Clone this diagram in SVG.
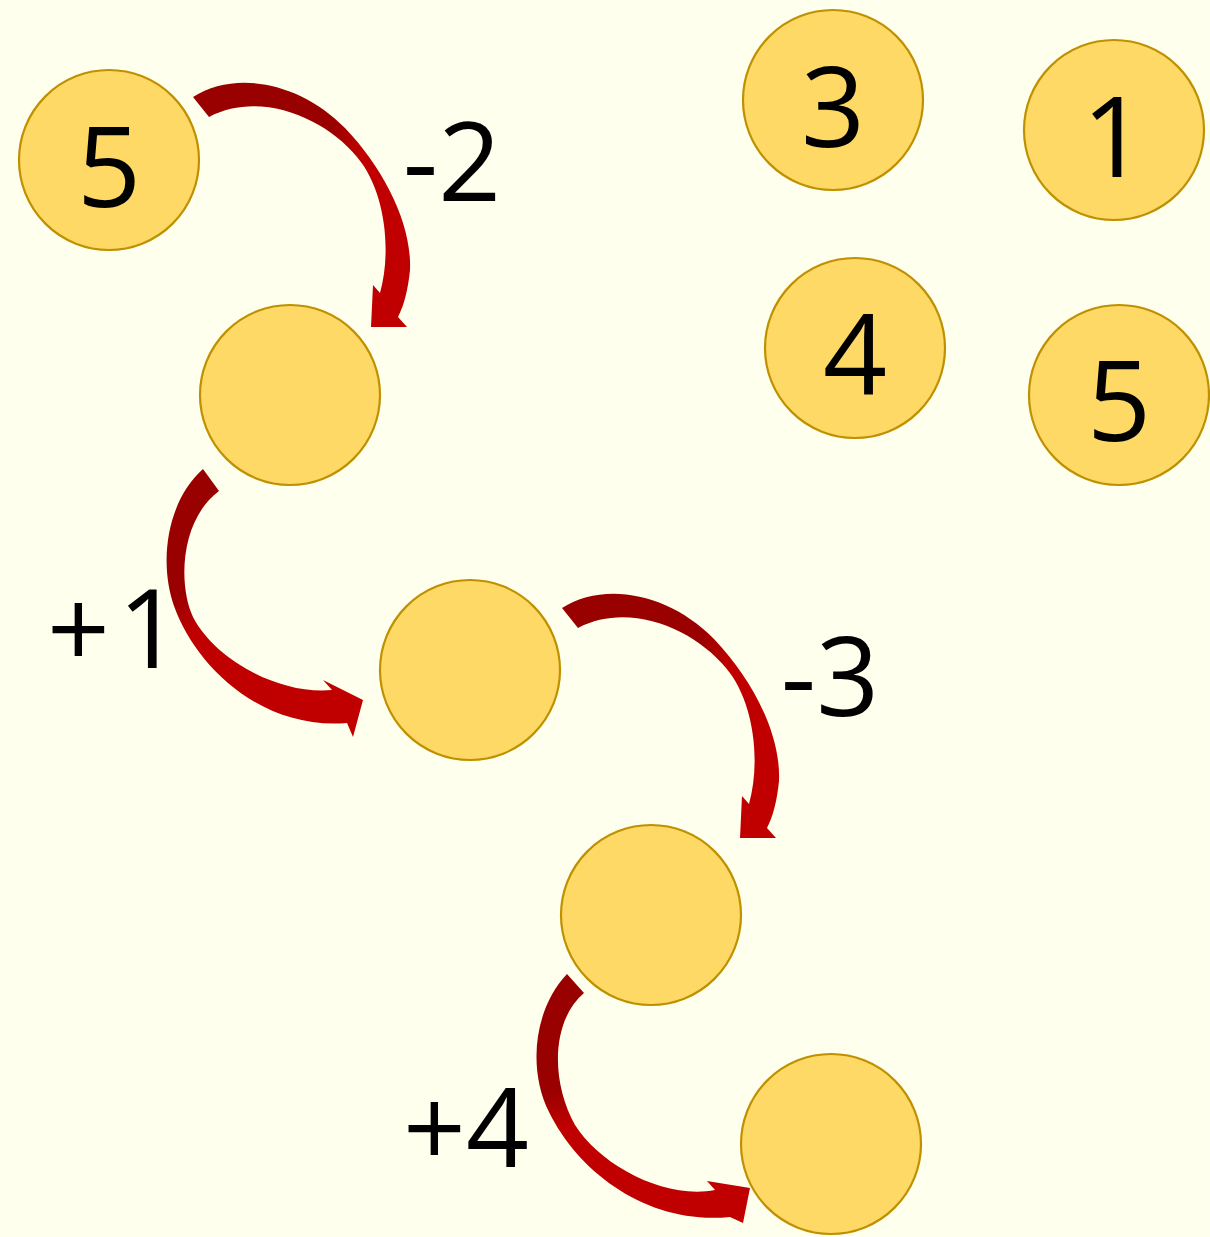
<svg xmlns="http://www.w3.org/2000/svg" width="1210" height="1237" viewBox="0 0 1210 1237">
<style>
.node circle{fill:#FFD966;stroke:#BF9000;stroke-width:2.2}
.num{font-family:"Open Sans","Noto Sans",sans-serif;font-size:112px;fill:#000;text-anchor:middle}
.lbl{font-family:"Open Sans","Noto Sans",sans-serif;font-size:110px;fill:#000;text-anchor:middle}
</style>
<defs>
<linearGradient id="gA" x1="0" y1="0" x2="1" y2="0.6">
<stop offset="0" stop-color="#990000"/><stop offset="0.55" stop-color="#9A0000"/><stop offset="0.7" stop-color="#C00000"/><stop offset="1" stop-color="#C00000"/>
</linearGradient>
<linearGradient id="gB" x1="0" y1="0" x2="0.3" y2="1">
<stop offset="0" stop-color="#990000"/><stop offset="0.45" stop-color="#9A0000"/><stop offset="0.6" stop-color="#C00000"/><stop offset="1" stop-color="#C00000"/>
</linearGradient>
<path id="arrA" d="M193,97 C235,70 300,82 345,128 C385,170 412,225 410,270 C408,290 404,305 398,317 L407,327 L371,327 L373,285 L380,293 C392,250 385,190 357,157 C325,118 260,90 209,117 Z"/>
</defs>
<rect width="1210" height="1237" fill="#FFFFEE"/>
<g id="connectors">
<use href="#arrA" fill="url(#gA)"/>
<use href="#arrA" fill="url(#gA)" transform="translate(369,511)"/>
<path fill="url(#gB)" d="M203,469 C168,500 158,560 174,606 C195,665 260,730 347,723 L353,737 L363,700 L323,680 L332,690 C280,695 215,660 193,617 C178,585 180,520 219,491 Z"/>
<path fill="url(#gB)" d="M567,974 C533,1010 528,1070 549,1112 C580,1175 650,1225 730,1217 L743,1223 L750,1188 L707,1181 L715,1190 C665,1200 600,1165 575,1125 C550,1080 552,1020 584,993 Z"/>
</g>
<g id="n1" class="node"><circle cx="109" cy="160" r="90"/><text class="num" x="109" y="207">5</text></g>
<g id="n2" class="node"><circle cx="290" cy="395" r="90"/></g>
<g id="n3" class="node"><circle cx="470" cy="670" r="90"/></g>
<g id="n4" class="node"><circle cx="651" cy="915" r="90"/></g>
<g id="n5" class="node"><circle cx="831" cy="1144" r="90"/></g>
<g id="c3" class="node"><circle cx="833" cy="100" r="90"/><text class="num" x="833" y="147">3</text></g>
<g id="c1" class="node"><circle cx="1114" cy="130" r="90"/><text class="num" x="1114" y="177">1</text></g>
<g id="c4" class="node"><circle cx="855" cy="348" r="90"/><text class="num" x="855" y="395">4</text></g>
<g id="c5" class="node"><circle cx="1119" cy="395" r="90"/><text class="num" x="1119" y="441">5</text></g>
<g id="labels">
<text class="lbl" x="452" y="201">-2</text>
<text class="lbl" x="114" y="668">+<tspan dx="8">1</tspan></text>
<text class="lbl" x="830" y="716">-3</text>
<text class="lbl" x="466" y="1167">+4</text>
</g>
</svg>
